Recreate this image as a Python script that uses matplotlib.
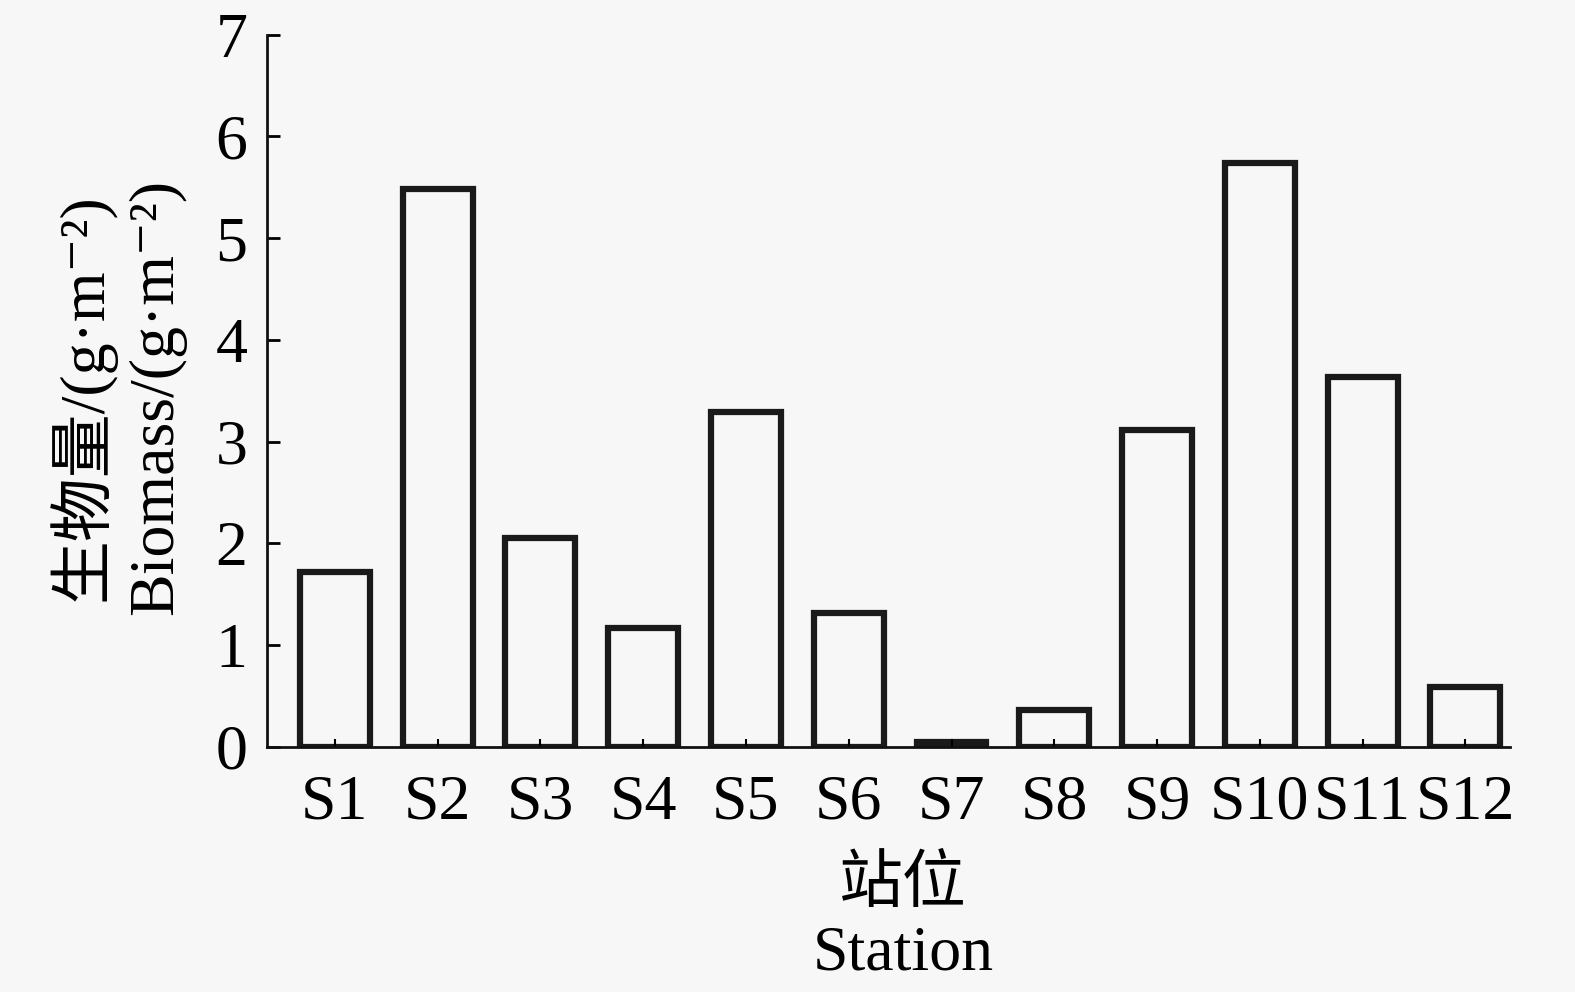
import numpy as np
import matplotlib.pyplot as plt

# 站位与生物量数据
stations = ['S1', 'S2', 'S3', 'S4', 'S5', 'S6', 'S7', 'S8', 'S9', 'S10', 'S11', 'S12']
biomass = [1.72, 5.48, 2.05, 1.17, 3.29, 1.32, 0.05, 0.36, 3.12, 5.74, 3.64, 0.59]
yticks = [0, 1, 2, 3, 4, 5, 6, 7]

# 西文用衬线体, 缺字时依次回退
plt.rcParams['font.family'] = ['Liberation Serif', 'DejaVu Serif', 'Noto Sans CJK SC']

bg = '#f7f7f7'
fig = plt.figure(figsize=(15.75, 9.92), dpi=100, facecolor=bg)
ax = fig.add_axes([0.1695, 0.247, 0.789, 0.718], facecolor=bg)

x = np.arange(len(stations))
ax.bar(x, biomass, width=0.68, facecolor='none', edgecolor='#1a1a1a', linewidth=4.5)

ax.set_xlim(-0.66, 11.43)
ax.set_ylim(0, 7)
ax.set_yticks(yticks)
ax.set_xticks(x)
ax.set_xticklabels(stations)

for s in ['top', 'right']:
    ax.spines[s].set_visible(False)
for s in ['left', 'bottom']:
    ax.spines[s].set_linewidth(2)
    ax.spines[s].set_color('#111111')

ax.tick_params(axis='y', direction='in', length=9, width=2, labelsize=46, pad=14)
ax.tick_params(axis='x', direction='in', length=6, width=1.5, labelsize=46, pad=20)

# y 轴标题两行分开放置
fig.text(82 / 1575, 0.6, '生物量/(g·m⁻²)', rotation=90, fontsize=46,
         ha='center', va='center')
fig.text(157 / 1575, 0.6, 'Biomass/(g·m⁻²)', rotation=90, fontsize=46,
         ha='center', va='center')

ax.set_xlabel('站位\nStation', fontsize=46, linespacing=1.2)
ax.xaxis.set_label_coords(0.512, -0.155, transform=ax.transAxes)
ax.xaxis.label.set_verticalalignment('top')

plt.savefig('out.png', dpi=100, facecolor=bg)
